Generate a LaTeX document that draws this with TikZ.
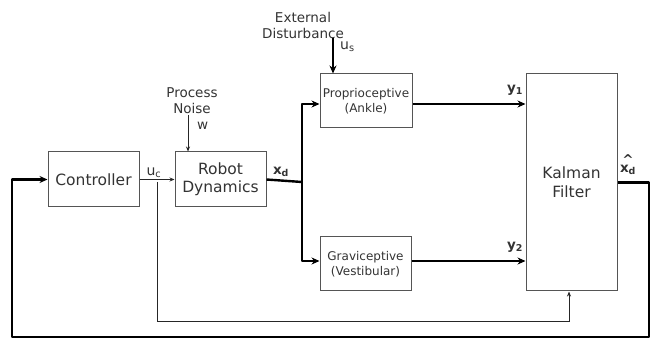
\documentclass[tikz,border=0pt]{standalone}
\usepackage{fontspec}
\setmainfont{DejaVu Sans}
\usetikzlibrary{arrows.meta}
\definecolor{txt}{HTML}{333333}
\definecolor{edge}{HTML}{555555}
\begin{document}
\begin{tikzpicture}[x=1pt,y=-1pt,
  blk/.style={draw=edge,line width=1pt,inner sep=0pt,text=txt,align=center},
  lbl/.style={text=txt,inner sep=0pt,align=center},
  thin/.style={draw=black!85,line width=0.7pt},
  thick/.style={draw=black,line width=2.4pt},
  tarr/.style={-{Stealth[length=5pt,width=4pt]}},
  barr/.style={-{Stealth[length=8pt,width=7pt]}}]
\useasboundingbox (0,0) rectangle (651,339);
% blocks
\node[blk,minimum width=91pt,minimum height=55pt,font=\fontsize{15.5}{18}\selectfont] (ctrl) at (93.5,179.5) {Controller};
\node[blk,minimum width=91pt,minimum height=55pt,font=\fontsize{15.5}{18}\selectfont] (robot) at (220.5,179.5) {Robot\\Dynamics};
\node[blk,minimum width=92pt,minimum height=54pt,font=\fontsize{12}{15}\selectfont] (prop) at (366,101) {Proprioceptive\\(Ankle)};
\node[blk,minimum width=91pt,minimum height=54pt,font=\fontsize{12}{15}\selectfont] (grav) at (365.5,264) {Graviceptive\\(Vestibular)};
\node[blk,minimum width=91pt,minimum height=217pt,font=\fontsize{15.5}{19}\selectfont] (kal) at (571.5,182.5) {Kalman\\Filter};
% texts
\node[lbl,font=\fontsize{13.5}{16}\selectfont] (pn) at (192,101) {Process\\Noise};
\node[lbl,font=\fontsize{13.5}{16}\selectfont] (ed) at (303,25) {External\\Disturbance};
\node[lbl,font=\fontsize{13.5}{16}\selectfont,anchor=west] (w) at (197,126) {w};
\node[lbl,font=\fontsize{14}{16}\selectfont,anchor=west] (us) at (340,47) {u\textsubscript{s}};
\node[lbl,font=\fontsize{14}{16}\selectfont] (uc) at (154,173) {u\textsubscript{c}};
\node[lbl,font=\fontsize{13.5}{16}\selectfont\bfseries] (xd) at (281,172) {x\textsubscript{d}};
\node[lbl,font=\fontsize{13.5}{16}\selectfont\bfseries] (y1) at (515,90) {y\textsubscript{1}};
\node[lbl,font=\fontsize{13.5}{16}\selectfont\bfseries] (y2) at (515,247) {y\textsubscript{2}};
\node[lbl,font=\fontsize{13.5}{16}\selectfont\bfseries] (xh) at (628,165) {\^{}\\[-8pt]x\textsubscript{d}};
% coordinates
\coordinate (wt) at (188,115);
\coordinate (ust) at (333,38);
\coordinate (br) at (302,182);
\coordinate (ucb) at (157,182);
\coordinate (fb) at (569,321);
\coordinate (re) at (649,182.5);
\coordinate (lb) at (12,337);
% thin connectors
\draw[thin,tarr] (ctrl.east) -- (robot.west);
\draw[thin,tarr] (wt) -- (wt |- robot.north);
\draw[thin,tarr] (ucb) |- (fb) -- (fb |- kal.south);
% thick connectors
\draw[thick,barr] (ust) -- (ust |- prop.north);
\draw[thick] (robot.east) -- (br);
\draw[thick,barr,line join=round] (br) |- (prop.west |- 0,104);
\draw[thick,barr,line join=round] (br) |- (grav.west |- 0,261);
\draw[thick,barr] (prop.east |- 0,104) -- (kal.west |- 0,104);
\draw[thick,barr] (grav.east |- 0,261) -- (kal.west |- 0,261);
\draw[thick,barr,line join=round] (kal.east |- re) -- (re) |- (lb) |- (ctrl.west);
\end{tikzpicture}
\end{document}
